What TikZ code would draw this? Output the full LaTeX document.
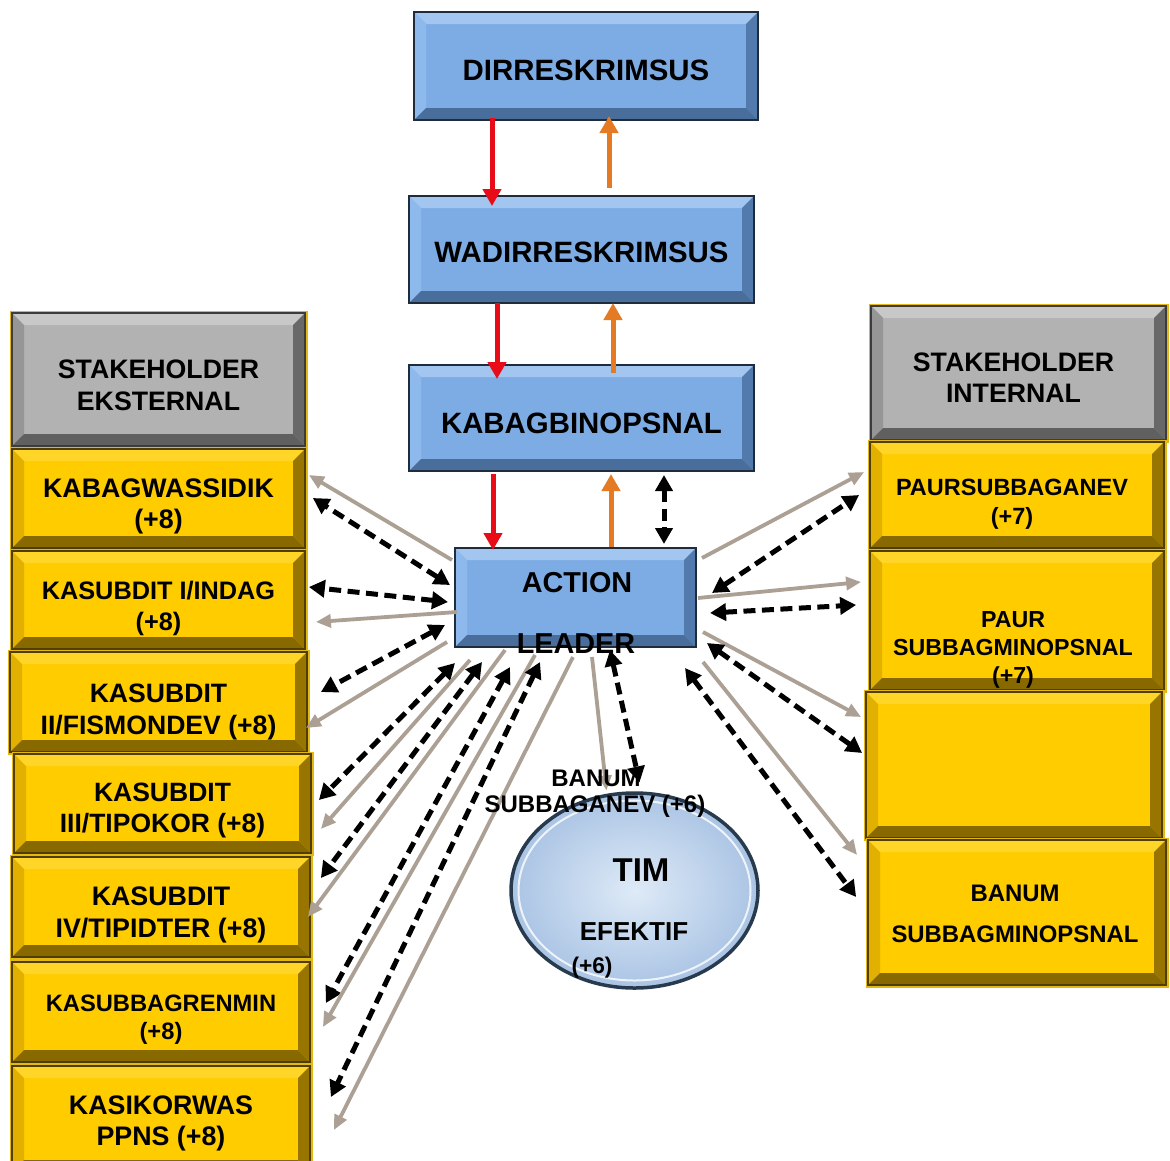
\documentclass[tikz,border=0pt]{standalone}
\usepackage{fontspec}
\setmainfont{Liberation Sans}
\usetikzlibrary{arrows.meta,calc,shapes.geometric}

\definecolor{bF}{RGB}{125,172,228}
\definecolor{bT}{RGB}{163,198,240}
\definecolor{bL}{RGB}{142,185,236}
\definecolor{bR}{RGB}{82,122,172}
\definecolor{bB}{RGB}{74,110,156}
\definecolor{bline}{RGB}{30,44,60}
\definecolor{yF}{RGB}{255,204,0}
\definecolor{yT}{RGB}{255,214,40}
\definecolor{yL}{RGB}{226,176,0}
\definecolor{yR}{RGB}{152,117,0}
\definecolor{yB}{RGB}{136,105,0}
\definecolor{yline}{RGB}{80,62,0}
\definecolor{ygold}{RGB}{228,184,20}
\definecolor{gF}{RGB}{178,178,178}
\definecolor{gT}{RGB}{200,200,200}
\definecolor{gL}{RGB}{150,150,150}
\definecolor{gR}{RGB}{104,104,104}
\definecolor{gB}{RGB}{96,96,96}
\definecolor{gline}{RGB}{60,60,60}
\definecolor{redc}{RGB}{232,12,24}
\definecolor{orc}{RGB}{228,122,36}
\definecolor{grc}{RGB}{172,160,148}
\definecolor{elF}{RGB}{200,220,242}
\definecolor{elE}{RGB}{170,196,228}
\definecolor{elD}{RGB}{40,58,78}

\newlength\bvw \setlength\bvw{12pt}
\newcommand\bevelpic[5]{%
 \path (path picture bounding box.north west) coordinate (bvNW)
       (path picture bounding box.north east) coordinate (bvNE)
       (path picture bounding box.south west) coordinate (bvSW)
       (path picture bounding box.south east) coordinate (bvSE);
 \fill[#1] (bvSW) rectangle (bvNE);
 \fill[#2] (bvNW) -- (bvNE) -- ([xshift=-\bvw,yshift=-\bvw]bvNE) -- ([xshift=\bvw,yshift=-\bvw]bvNW) -- cycle;
 \fill[#3] (bvNW) -- ([xshift=\bvw,yshift=-\bvw]bvNW) -- ([xshift=\bvw,yshift=\bvw]bvSW) -- (bvSW) -- cycle;
 \fill[#4] (bvNE) -- ([xshift=-\bvw,yshift=-\bvw]bvNE) -- ([xshift=-\bvw,yshift=\bvw]bvSE) -- (bvSE) -- cycle;
 \fill[#5] (bvSW) -- ([xshift=\bvw,yshift=\bvw]bvSW) -- ([xshift=-\bvw,yshift=\bvw]bvSE) -- (bvSE) -- cycle;
}
\newcommand\fsz[2]{\fontsize{#1}{#2}\selectfont}

\tikzset{
  box/.style={rectangle, inner sep=0pt},
  bluebox/.style={box, draw=bline, line width=2.8pt, path picture={\bevelpic{bF}{bT}{bL}{bR}{bB}}},
  yelbox/.style={box, draw=yline, line width=1.8pt, preaction={draw=ygold, line width=5pt}, path picture={\bevelpic{yF}{yT}{yL}{yR}{yB}}},
  graybox/.style={box, draw=gline, line width=1.8pt, preaction={draw=ygold, line width=5pt}, path picture={\bevelpic{gF}{gT}{gL}{gR}{gB}}},
  lbl/.style={inner sep=0pt, align=center, text=black, font=\bfseries},
  redar/.style={draw=redc, line width=5pt, -{Triangle[length=17pt,width=18pt]}},
  orar/.style={draw=orc, line width=5pt, -{Triangle[length=17pt,width=18pt]}},
  dsh/.style={draw=black, line width=5pt, dash pattern=on 12pt off 6.5pt,
     {Triangle[length=16pt,width=17pt]}-{Triangle[length=16pt,width=17pt]}},
  gry/.style={draw=grc, line width=3.8pt, -{Triangle[length=15pt,width=13pt]}},
}

\begin{document}
\begin{tikzpicture}[x=1pt,y=-1pt]
\useasboundingbox (0,0) rectangle (1170,1160);
\fill[white] (0,0) rectangle (1170,1160);

% central column
\node[bluebox, minimum width=344pt, minimum height=108pt] (dir) at (586,66) {};
\node[bluebox, minimum width=345pt, minimum height=107pt] (wad) at (581.5,249.5) {};
\node[bluebox, minimum width=345pt, minimum height=106pt] (kab) at (581.5,418) {};
\node[bluebox, minimum width=241pt, minimum height=99pt] (al) at (575.5,597.5) {};

% left column
\node[graybox, minimum width=293pt, minimum height=133pt] (ske) at (158.5,379.5) {};
\node[yelbox, minimum width=293pt, minimum height=99pt] (k1) at (158.5,498.5) {};
\node[yelbox, minimum width=293pt, minimum height=98pt] (k2) at (158.5,600) {};
\node[yelbox, minimum width=297pt, minimum height=100pt] (k3) at (158.5,702) {};
\node[yelbox, minimum width=297pt, minimum height=99pt] (k4) at (162.5,803.5) {};
\node[yelbox, minimum width=298pt, minimum height=100pt] (k5) at (161,907) {};
\node[yelbox, minimum width=298pt, minimum height=100pt] (k6) at (161,1012) {};
\node[yelbox, minimum width=298pt, minimum height=106pt] (k7) at (161,1119) {};

% right column
\node[graybox, minimum width=295pt, minimum height=134pt] (ski) at (1018.5,373) {};
\node[yelbox, minimum width=294pt, minimum height=106pt] (r1) at (1017,495) {};
\node[yelbox, minimum width=294pt, minimum height=139pt] (r2) at (1017,620.5) {};
\node[yelbox, minimum width=296pt, minimum height=146pt] (r3) at (1014,765) {};
\node[yelbox, minimum width=298pt, minimum height=145pt] (r4) at (1017,912.5) {};

% ellipse
\node[ellipse, minimum width=247pt, minimum height=195pt, draw=elD, line width=3.5pt,
      inner color=elF!60!white, outer color=elE,
      path picture={\draw[white, opacity=.8, line width=2pt] (path picture bounding box.center) ellipse [x radius=116pt, y radius=90pt];}] (tim) at (634.5,890.5) {};

% box texts
\node[lbl, font=\bfseries\fsz{29.4}{32}] (dirT) at ([yshift=-4pt]dir.center) {DIRRESKRIMSUS};
\node[lbl, font=\bfseries\fsz{29.4}{32}] (wadT) at ([yshift=-3pt]wad.center) {WADIRRESKRIMSUS};
\node[lbl, font=\bfseries\fsz{29.4}{32}] (kabT) at ([yshift=-5pt]kab.center) {KABAGBINOPSNAL};
\node[lbl, font=\bfseries\fsz{26.7}{32}] (skeT) at ([yshift=-5.5pt]ske.center) {STAKEHOLDER\\EKSTERNAL};
\node[lbl, font=\bfseries\fsz{26.8}{31}] (k1T) at ([yshift=-8pt]k1.center) {KABAGWASSIDIK\\(+8)};
\node[lbl, font=\bfseries\fsz{25.3}{31}] (k2T) at ([yshift=-8pt]k2.center) {KASUBDIT I/INDAG\\(+8)};
\node[lbl, font=\bfseries\fsz{26.6}{32}] (k3T) at ([yshift=-10pt]k3.center) {KASUBDIT\\II/FISMONDEV (+8)};
\node[lbl, font=\bfseries\fsz{26.5}{31}] (k4T) at ([yshift=-7pt]k4.center) {KASUBDIT\\III/TIPOKOR (+8)};
\node[lbl, font=\bfseries\fsz{26.8}{32}] (k5T) at ([yshift=-8pt]k5.center) {KASUBDIT\\IV/TIPIDTER (+8)};
\node[lbl, font=\bfseries\fsz{23.7}{28}] (k6T) at ([yshift=-8pt]k6.center) {KASUBBAGRENMIN\\(+8)};
\node[lbl, font=\bfseries\fsz{26.8}{31}] (k7T) at ([yshift=-4pt]k7.center) {KASIKORWAS\\PPNS (+8)};
\node[lbl, font=\bfseries\fsz{26.7}{31}] (skiT) at ([xshift=-5pt,yshift=-5pt]ski.center) {STAKEHOLDER\\INTERNAL};
\node[lbl, font=\bfseries\fsz{23.5}{29}] (r1T) at ([xshift=-5pt,yshift=-9pt]r1.center) {PAURSUBBAGANEV\\(+7)};
\node[lbl, font=\bfseries\fsz{23.9}{41}] (r4T) at ([xshift=-2pt,yshift=-1pt]r4.center) {BANUM\\SUBBAGMINOPSNAL};

% vertical arrows
\draw[redar] ($(dir.center)+(-94,52)$) -- ($(wad.center)+(-89.5,-43.5)$);
\draw[orar] ($(wad.center)+(27.5,-61.5)$) -- ($(dir.center)+(23,50)$);
\draw[redar] ($(wad.center)+(-84.5,53.5)$) -- ($(kab.center)+(-84.5,-39)$);
\draw[orar] ($(kab.center)+(31.5,-45)$) -- ($(wad.center)+(31.5,53.5)$);
\draw[redar] ($(kab.center)+(-88.5,56)$) -- ($(al.center)+(-82.5,-47.5)$);
\draw[orar] ($(al.center)+(35.5,-50.5)$) -- ($(kab.center)+(29.5,56)$);
\draw[dsh] ($(kab.center)+(82.5,57)$) -- ($(al.center)+(88.5,-53.5)$);

% left fan
\draw[gry] ($(al.center)+(-123.5,-37.5)$) -- ($(k1.east)+(3,-23.5)$);
\draw[dsh] ($(al.center)+(-125.5,-12.5)$) -- ($(k1.east)+(7,-0.5)$);
\draw[dsh] ($(al.center)+(-127.5,4.5)$) -- ($(k2.east)+(3,-13)$);
\draw[gry] ($(al.center)+(-118.5,14.5)$) -- ($(k2.east)+(10,22)$);
\draw[dsh] ($(al.center)+(-130.5,27.5)$) -- ($(k3.east)+(13,-10)$);
\draw[gry] ($(al.center)+(-128.5,44.5)$) -- ($(k3.east)+(-2,26)$);
\draw[dsh] ($(al.center)+(-120.5,65.5)$) -- ($(k4.east)+(7,-3.5)$);
\draw[gry] ($(al.center)+(-105.5,62.5)$) -- ($(k4.east)+(9,25.5)$);
\draw[dsh] ($(al.center)+(-93.5,64.5)$) -- ($(k5.east)+(10,-29)$);
\draw[gry] ($(al.center)+(-70.5,52.5)$) -- ($(k5.east)+(-3,10)$);
\draw[dsh] ($(al.center)+(-65.5,69.5)$) -- ($(k6.east)+(15,-9)$);
\draw[gry] ($(al.center)+(-40.5,57.5)$) -- ($(k6.east)+(12,15)$);
\draw[dsh] ($(al.center)+(-35.5,64.5)$) -- ($(k7.east)+(20,-22)$);
\draw[gry] ($(al.center)+(-2.5,59.5)$) -- ($(k7.east)+(23,11)$);

% centre
\draw[gry] ($(al.center)+(16.5,59.5)$) -- ($(tim.center)+(-28,-100)$);
\draw[dsh] ($(al.center)+(34.5,52.5)$) -- ($(tim.center)+(5,-108)$);

% right fan
\draw[gry] ($(al.center)+(126.5,-39.5)$) -- ($(r1.west)+(-5,-23)$);
\draw[dsh] ($(al.center)+(136.5,-4.5)$) -- ($(r1.west)+(-10,0)$);
\draw[gry] ($(al.center)+(122.5,0.5)$) -- ($(r2.west)+(-8,-38.5)$);
\draw[dsh] ($(al.center)+(134.5,15.5)$) -- ($(r2.west)+(-13,-15.5)$);
\draw[gry] ($(al.center)+(127.5,34.5)$) -- ($(r3.west)+(-4,-48)$);
\draw[dsh] ($(al.center)+(131.5,45.5)$) -- ($(r3.west)+(-3,-12)$);
\draw[gry] ($(al.center)+(127.5,64.5)$) -- ($(r4.west)+(-10,-57.5)$);
\draw[dsh] ($(al.center)+(109.5,70.5)$) -- ($(r4.west)+(-11,-15.5)$);

% overlay texts
\node[lbl, font=\bfseries\fsz{28.8}{32}] (alT1) at (577,583) {ACTION};
\node[lbl, font=\bfseries\fsz{28.8}{32}] (alT2) at (576,644) {LEADER};
\node[lbl, font=\bfseries\fsz{23.2}{28}] (r2T) at (1013,650) {PAUR\\SUBBAGMINOPSNAL\\(+7)};
\node[lbl, font=\bfseries\fsz{24}{28}] (bnT1) at (596,778) {BANUM};
\node[lbl, font=\bfseries\fsz{24}{28}] (bnT2) at (595,806) {SUBBAGANEV (+6)};
\node[lbl, font=\bfseries\fsz{33}{36}] (timT1) at (641,870) {TIM};
\node[lbl, font=\bfseries\fsz{26}{30}] (timT2) at (634,932) {EFEKTIF};
\node[lbl, font=\bfseries\fsz{22.7}{26}] (timT3) at (592,968) {(+6)};
\end{tikzpicture}
\end{document}
